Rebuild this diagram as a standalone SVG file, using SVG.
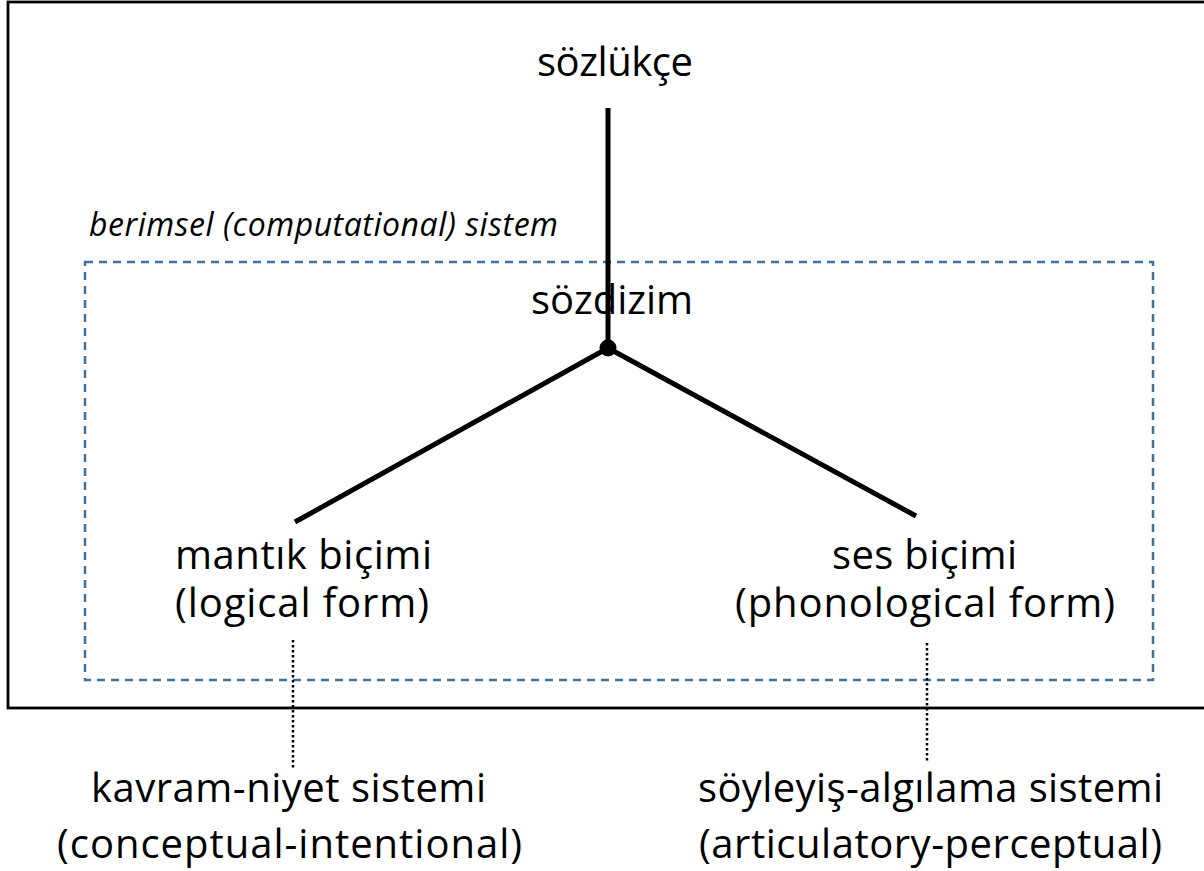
<svg xmlns="http://www.w3.org/2000/svg" width="1204" height="871" viewBox="0 0 1204 871">
<style>
.t{font-family:"Open Sans","Noto Sans","Liberation Sans",sans-serif;font-size:40px;fill:#000}
.it{font-family:"Open Sans","Noto Sans","Liberation Sans",sans-serif;font-size:32px;font-style:italic;fill:#000}
.main{stroke:#000;stroke-width:5;fill:none;stroke-linecap:butt}
.dot{stroke:#000;stroke-width:2.5;stroke-dasharray:2.5 2.5;fill:none}
</style>
<rect x="8" y="2" width="1210" height="706" fill="#fff" stroke="#000" stroke-width="2.8"/>
<g id="computational-system">
<rect x="85" y="262" width="1068" height="418" fill="none" stroke="#41719C" stroke-width="2.5" stroke-dasharray="8 6"/>
<text class="it" x="89" y="236" textLength="469">berimsel (computational) sistem</text>
</g>
<g id="connectors">
<line class="main" x1="608" y1="108" x2="608" y2="348"/>
<line class="main" x1="608" y1="348" x2="295" y2="522"/>
<line class="main" x1="608" y1="348" x2="916" y2="516"/>
<line class="dot" x1="293" y1="640" x2="293" y2="768"/>
<line class="dot" x1="927" y1="643" x2="927" y2="763"/>
</g>
<g id="lexicon"><text class="t" x="537" y="76" textLength="156">sözlükçe</text></g>
<g id="syntax"><text class="t" x="531" y="314" textLength="162">sözdizim</text></g>
<g id="node-merge"><circle cx="608" cy="348" r="8.5" fill="#000"/></g>
<g id="logical-form"><text class="t" x="175" y="569" textLength="257">mantık biçimi</text><text class="t" x="175" y="617" textLength="254">(logical form)</text></g>
<g id="phonological-form"><text class="t" x="832" y="569" textLength="185">ses biçimi</text><text class="t" x="735" y="617" textLength="380">(phonological form)</text></g>
<g id="ci-system"><text class="t" x="91" y="802" textLength="395">kavram-niyet sistemi</text><text class="t" x="57" y="858" textLength="465">(conceptual-intentional)</text></g>
<g id="ap-system"><text class="t" x="698" y="802" textLength="465">söyleyiş-algılama sistemi</text><text class="t" x="699" y="858" textLength="463">(articulatory-perceptual)</text></g>
</svg>
